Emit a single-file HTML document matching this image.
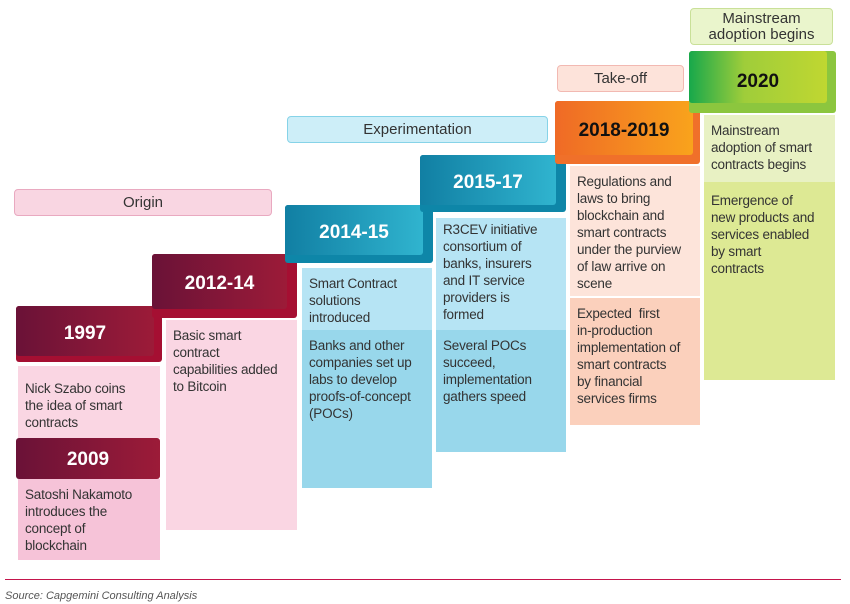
<!DOCTYPE html>
<html><head><style>
body{margin:0;width:850px;height:604px;background:#fff;position:relative;overflow:hidden;font-family:"Liberation Sans",sans-serif;}
div{position:absolute;box-sizing:border-box;}
.lab{text-align:center;color:#333;font-size:15px;border-radius:4px;}
.hd{color:#fff;font-weight:bold;font-size:19px;text-align:center;border-radius:3px;}
.t{font-size:13.5px;line-height:17px;color:#333;padding:7px 0 0 7px;letter-spacing:-0.2px;}
</style></head><body>
<div class="lab" style="left:14px;top:189px;width:258px;height:27px;background:#f9d6e2;border:1px solid #e9a9c0;line-height:25px">Origin</div>
<div class="lab" style="left:287px;top:116px;width:261px;height:27px;background:#cdeef8;border:1px solid #86d3e8;line-height:25px">Experimentation</div>
<div class="lab" style="left:557px;top:65px;width:127px;height:27px;background:#fde3da;border:1px solid #f2b9b2;line-height:25px">Take-off</div>
<div class="lab" style="left:690px;top:8px;width:143px;height:37px;background:#eaf5cc;border:1px solid #c9e098;line-height:16px;padding-top:2px">Mainstream<br>adoption begins</div>

<div class="hd" style="left:16px;top:306px;width:146px;height:56px;background:#a50f32"></div>
<div class="hd" style="left:16px;top:306px;width:138px;height:50px;background:linear-gradient(90deg,#6a1237,#9c1b38);line-height:56px">1997</div>
<div class="t" style="left:18px;top:366px;width:142px;height:72px;background:#fad6e3;padding-top:14px">Nick Szabo coins<br>the idea of smart<br>contracts</div>
<div class="hd" style="left:16px;top:438px;width:144px;height:41px;background:linear-gradient(90deg,#6a1237,#9c1b38);line-height:43px">2009</div>
<div class="t" style="left:18px;top:479px;width:142px;height:81px;background:#f6c3d8">Satoshi Nakamoto<br>introduces the<br>concept of<br>blockchain</div>

<div class="hd" style="left:152px;top:254px;width:145px;height:64px;background:#a50f32"></div>
<div class="hd" style="left:152px;top:254px;width:135px;height:55px;background:linear-gradient(90deg,#6a1237,#9c1b38);line-height:60px">2012-14</div>
<div class="t" style="left:166px;top:320px;width:131px;height:210px;background:#fad6e3">Basic smart<br>contract<br>capabilities added<br>to Bitcoin</div>

<div class="hd" style="left:285px;top:205px;width:148px;height:58px;background:#0e86a8"></div>
<div class="hd" style="left:285px;top:205px;width:138px;height:50px;background:linear-gradient(90deg,#117fa3,#30b4cf);line-height:56px">2014-15</div>
<div class="t" style="left:302px;top:268px;width:130px;height:62px;background:#b6e4f4">Smart Contract<br>solutions<br>introduced</div>
<div class="t" style="left:302px;top:330px;width:130px;height:158px;background:#98d7eb">Banks and other<br>companies set up<br>labs to develop<br>proofs-of-concept<br>(POCs)</div>

<div class="hd" style="left:420px;top:155px;width:146px;height:57px;background:#0e86a8"></div>
<div class="hd" style="left:420px;top:155px;width:136px;height:50px;background:linear-gradient(90deg,#117fa3,#30b4cf);line-height:56px">2015-17</div>
<div class="t" style="left:436px;top:218px;width:130px;height:112px;background:#b6e4f4;padding-top:3px">R3CEV initiative<br>consortium of<br>banks, insurers<br>and IT service<br>providers is<br>formed</div>
<div class="t" style="left:436px;top:330px;width:130px;height:122px;background:#98d7eb">Several POCs<br>succeed,<br>implementation<br>gathers speed</div>

<div class="hd" style="left:555px;top:101px;width:145px;height:63px;background:#f0702a"></div>
<div class="hd" style="left:555px;top:101px;width:138px;height:54px;background:linear-gradient(90deg,#ef6a26,#f9a31c);line-height:60px;color:#111">2018-2019</div>
<div class="t" style="left:570px;top:166px;width:130px;height:130px;background:#fde4da">Regulations and<br>laws to bring<br>blockchain and<br>smart contracts<br>under the purview<br>of law arrive on<br>scene</div>
<div class="t" style="left:570px;top:298px;width:130px;height:127px;background:#fbd0bc">Expected&nbsp; first<br>in-production<br>implementation of<br>smart contracts<br>by financial<br>services firms</div>

<div class="hd" style="left:689px;top:51px;width:147px;height:62px;background:#8cc63e"></div>
<div class="hd" style="left:689px;top:51px;width:138px;height:52px;background:linear-gradient(90deg,#17a84b,#9fcd3a 40%,#c0d731);line-height:62px;color:#111">2020</div>
<div class="t" style="left:704px;top:115px;width:131px;height:67px;background:#e8f1c3">Mainstream<br>adoption of smart<br>contracts begins</div>
<div class="t" style="left:704px;top:182px;width:131px;height:198px;background:#dde994;padding-top:10px">Emergence of<br>new products and<br>services enabled<br>by smart<br>contracts</div>

<div style="left:5px;top:579px;width:836px;height:1px;background:#c4154c"></div>
<div style="left:5px;top:590px;font-size:11px;font-style:italic;color:#555">Source: Capgemini Consulting Analysis</div>
</body></html>
